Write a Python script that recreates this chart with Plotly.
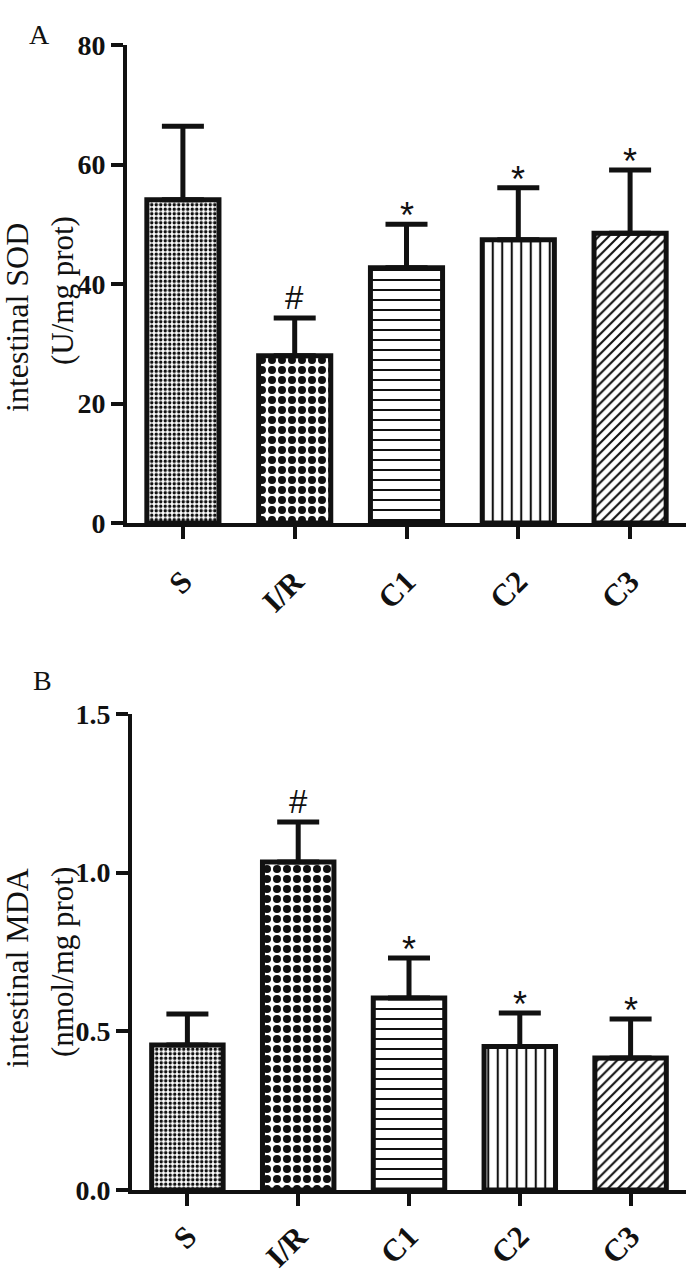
import plotly.graph_objects as go

# ---------------- data ----------------
categories = ["S", "I/R", "C1", "C2", "C3"]
sod_mean = [54.1, 28.0, 42.7, 47.4, 48.5]
sod_sd = [12.3, 6.3, 7.3, 8.7, 10.6]
sod_marks = ["", "#", "*", "*", "*"]
mda_mean = [0.457, 1.034, 0.605, 0.452, 0.416]
mda_sd = [0.098, 0.126, 0.126, 0.106, 0.123]
mda_marks = ["", "#", "*", "*", "*"]
sod_ticks = [0, 20, 40, 60, 80]
mda_ticks = [0.0, 0.5, 1.0, 1.5]

# ---------------- styles ----------------
W, H = 690, 1275
pat_shape = [".", ".", "-", "|", "/"]
pat_size = [4.5, 10, 10, 9.5, 7]
pat_solid = [0.45, 0.5, 0.2, 0.22, 0.3]
SERIF = "Liberation Serif"
SANS = "Liberation Sans"


def px(x):
    return x / W


def py(y):
    return 1 - y / H


fig = go.Figure()


def add_panel(mean, sd, xa, ya):
    fig.add_trace(go.Bar(
        x=categories, y=mean, xaxis=xa, yaxis=ya, width=0.645,
        marker=dict(color="white",
                    line=dict(color="#111111", width=5),
                    pattern=dict(shape=pat_shape, size=pat_size, solidity=pat_solid,
                                 fgcolor="#111111", bgcolor="white", fillmode="replace")),
        error_y=dict(type="data", symmetric=False, array=sd, arrayminus=[0] * len(sd),
                     color="#111111", thickness=5, width=21),
        showlegend=False, hoverinfo="skip", cliponaxis=False))


add_panel(sod_mean, sod_sd, "x", "y")
add_panel(mda_mean, mda_sd, "x2", "y2")

axis_common = dict(showline=True, linecolor="#111111", linewidth=4, ticks="outside",
                   ticklen=12, tickwidth=4, tickcolor="#111111", showgrid=False,
                   zeroline=False, mirror=False, automargin=False)
xtick_font = dict(family=SERIF, size=31, color="#111111", weight="bold")
ytick_font = dict(family=SERIF, size=28, color="#111111", weight="bold")

fig.update_layout(
    width=W, height=H, margin=dict(l=0, r=0, t=0, b=0, autoexpand=False),
    paper_bgcolor="white", plot_bgcolor="white",
    xaxis=dict(domain=[px(127), px(686)], anchor="y", range=[-0.5, 4.5],
               tickangle=-45, tickfont=xtick_font, ticklabelstandoff=12, **axis_common),
    yaxis=dict(domain=[py(523), py(45)], anchor="x", range=[0, 80],
               tickvals=sod_ticks, tickfont=ytick_font, ticklabelstandoff=0, **axis_common),
    xaxis2=dict(domain=[px(132), px(686)], anchor="y2", range=[-0.5, 4.5],
                tickangle=-45, tickfont=xtick_font, ticklabelstandoff=0, **axis_common),
    yaxis2=dict(domain=[py(1190), py(714)], anchor="x2", range=[0, 1.5],
                tickvals=mda_ticks, tickformat=".1f", tickfont=ytick_font,
                ticklabelstandoff=0, **axis_common),
)

annotations = []
# significance marks
for marks, mean, sd, xr, yr in [(sod_marks, sod_mean, sod_sd, "x", "y"),
                                (mda_marks, mda_mean, mda_sd, "x2", "y2")]:
    for c, m, s, t in zip(categories, mean, sd, marks):
        if not t:
            continue
        if t == "*":
            fs, ys = 36, -14
        else:
            fs, ys = 33, 0
        annotations.append(dict(x=c, y=m + s, xref=xr, yref=yr, text=t, showarrow=False,
                                yanchor="bottom", xanchor="center", yshift=ys,
                                font=dict(family=SANS, size=fs, color="#111111")))

# panel letters
annotations.append(dict(x=px(27), y=py(17), xref="paper", yref="paper", text="A",
                        showarrow=False, font=dict(family=SERIF, size=28, color="#111111")))
annotations.append(dict(x=px(31), y=py(680), xref="paper", yref="paper", text="B",
                        showarrow=False, font=dict(family=SERIF, size=28, color="#111111")))

# y-axis titles (two separate lines)
ytitles = [("intestinal SOD", 17, 318, 32), ("(U/mg prot)", 62, 291, 31),
           ("intestinal MDA", 17, 968, 32), ("(nmol/mg prot)", 62, 962, 31)]
for txt, xx, yy, fs in ytitles:
    annotations.append(dict(x=px(xx), y=py(yy), xref="paper", yref="paper", text=txt,
                            textangle=-90, showarrow=False, xanchor="center", yanchor="middle",
                            font=dict(family=SERIF, size=fs, color="#111111")))

fig.update_layout(annotations=annotations)
fig.write_html("out.html", config={"displayModeBar": False},
               post_script="document.body.style.margin='0px';"
                           "document.body.style.overflow='hidden';")
